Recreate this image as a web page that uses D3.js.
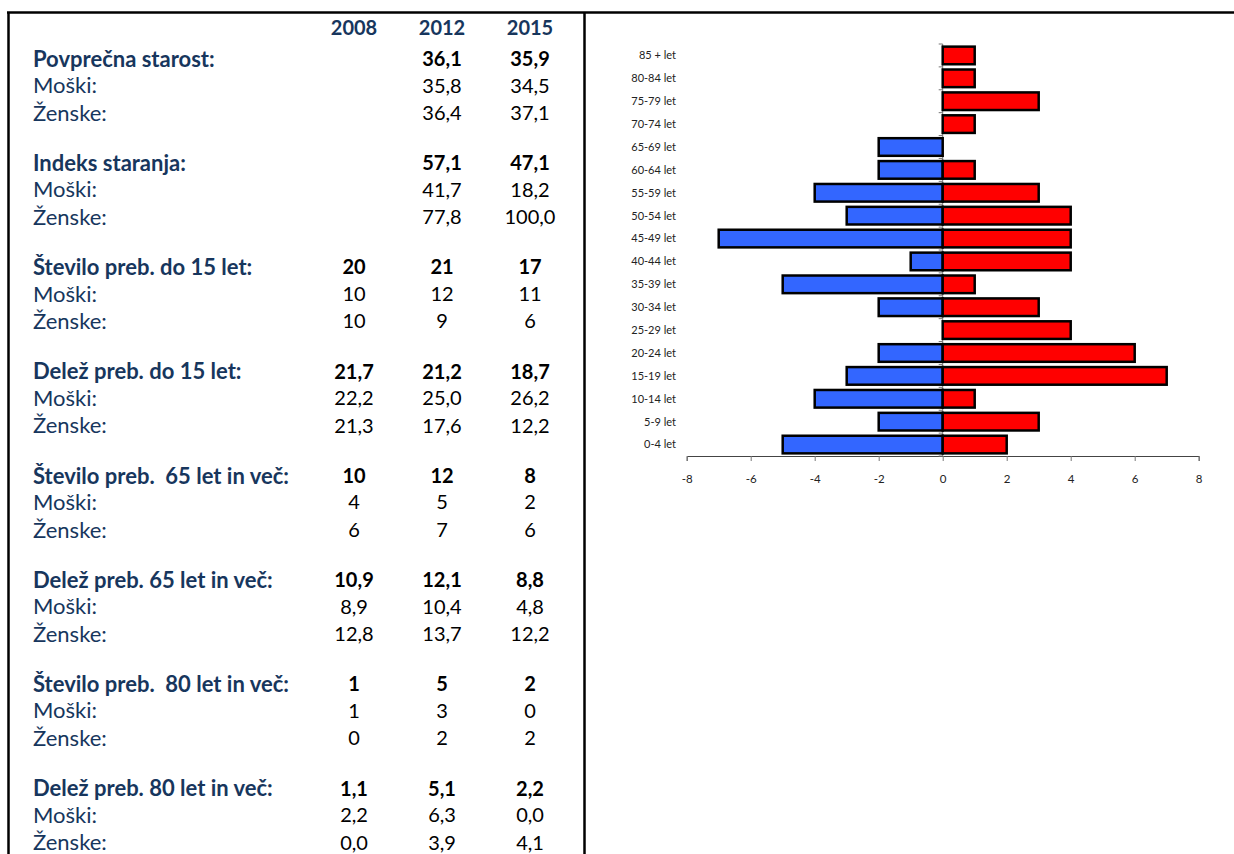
<!DOCTYPE html>
<html><head><meta charset="utf-8">
<script src="https://cdn.jsdelivr.net/npm/d3@7"></script>
<style>body{margin:0;background:#fff}svg text{white-space:pre}</style>
</head><body><svg id="c" width="1234" height="854"></svg>
<script>
const years = ["2008", "2012", "2015"];
const groupLabels = ["Povprečna starost:", "Indeks staranja:", "Število preb. do 15 let:", "Delež preb. do 15 let:", "Število preb.  65 let in več:", "Delež preb. 65 let in več:", "Število preb.  80 let in več:", "Delež preb. 80 let in več:"];
const subLabels = ["Moški:", "Ženske:"];
const totalValues = [["", "36,1", "35,9"], ["", "57,1", "47,1"], ["20", "21", "17"], ["21,7", "21,2", "18,7"], ["10", "12", "8"], ["10,9", "12,1", "8,8"], ["1", "5", "2"], ["1,1", "5,1", "2,2"]];
const maleValues = [["", "35,8", "34,5"], ["", "41,7", "18,2"], ["10", "12", "11"], ["22,2", "25,0", "26,2"], ["4", "5", "2"], ["8,9", "10,4", "4,8"], ["1", "3", "0"], ["2,2", "6,3", "0,0"]];
const femaleValues = [["", "36,4", "37,1"], ["", "77,8", "100,0"], ["10", "9", "6"], ["21,3", "17,6", "12,2"], ["6", "7", "6"], ["12,8", "13,7", "12,2"], ["0", "2", "2"], ["0,0", "3,9", "4,1"]];

const ageGroups = ["0-4 let", "5-9 let", "10-14 let", "15-19 let", "20-24 let", "25-29 let", "30-34 let", "35-39 let", "40-44 let", "45-49 let", "50-54 let", "55-59 let", "60-64 let", "65-69 let", "70-74 let", "75-79 let", "80-84 let", "85 + let"];
const men = [-5, -2, -4, -3, -2, 0, -2, -5, -1, -7, -3, -4, -2, -2, 0, 0, 0, 0];
const women = [2, 3, 1, 7, 6, 4, 3, 1, 4, 4, 4, 3, 1, 0, 1, 3, 1, 1];
const xTicks = [-8, -6, -4, -2, 0, 2, 4, 6, 8];

const svg = d3.select("#c");
const FONT = "Lato, 'Open Sans', sans-serif";
const NAVY = "#17365D";

// frame lines
svg.append("line").attr("x1", 7).attr("x2", 1234).attr("y1", 12.5).attr("y2", 12.5).attr("stroke", "#000").attr("stroke-width", 2.5);
svg.append("line").attr("x1", 8.5).attr("x2", 8.5).attr("y1", 12).attr("y2", 854).attr("stroke", "#000").attr("stroke-width", 2.5);
svg.append("line").attr("x1", 584.5).attr("x2", 584.5).attr("y1", 12).attr("y2", 854).attr("stroke", "#000").attr("stroke-width", 2.5);

// table
const colX = d3.scalePoint().domain(years).range([354, 530]);
const tbl = svg.append("g").attr("font-family", FONT);
tbl.selectAll("text.yr").data(years).join("text").attr("class", "yr")
  .attr("x", d => colX(d)).attr("y", 28).attr("dy", "0.35em").attr("font-size", 20)
  .attr("text-anchor", "middle").attr("font-weight", "bold").attr("fill", NAVY).text(d => d);

const groupY = d3.scaleLinear().domain([0, 7]).range([59, 788.5]);
const rowOffsets = [0, 26.5, 54];
groupLabels.forEach((lab, i) => {
  const y0 = groupY(i);
  tbl.append("text").attr("x", 33).attr("y", y0).attr("dy", "0.35em").attr("font-size", 22)
    .attr("font-weight", "bold").attr("fill", NAVY).text(lab);
  subLabels.forEach((s, k) => {
    tbl.append("text").attr("x", 33).attr("y", y0 + rowOffsets[k + 1]).attr("dy", "0.35em").attr("font-size", 22)
      .attr("fill", NAVY).text(s);
  });
  [totalValues[i], maleValues[i], femaleValues[i]].forEach((vals, k) => {
    vals.forEach((v, j) => {
      if (v === "") return;
      tbl.append("text").attr("x", colX(years[j])).attr("y", y0 + rowOffsets[k]).attr("dy", "0.35em").attr("font-size", 20)
        .attr("text-anchor", "middle").attr("font-weight", k === 0 ? "bold" : "normal").attr("fill", "#000").text(v);
    });
  });
});

// pyramid chart
const x = d3.scaleLinear().domain([-8, 8]).range([686.7, 1198.7]);
const y = d3.scaleBand().domain(ageGroups.slice().reverse()).range([44, 456]).paddingInner(0.23).paddingOuter(0.115);
const chart = svg.append("g");
const AX = "#777";

// x axis
const xAxis = chart.append("g").attr("transform", "translate(0,456)")
  .call(d3.axisBottom(x).tickValues(xTicks).tickFormat(d => String(d)).tickSize(5).tickPadding(14).tickSizeOuter(5));
xAxis.select(".domain").attr("stroke", "#444");
xAxis.selectAll(".tick line").attr("stroke", "#777");
xAxis.selectAll("text").attr("font-family", FONT).attr("font-size", 11.5).attr("fill", "#222");

// y axis line & boundary ticks
chart.append("line").attr("x1", x(0)).attr("x2", x(0)).attr("y1", 44).attr("y2", 456).attr("stroke", AX).attr("stroke-width", 1);
const bounds = d3.range(ageGroups.length + 1).map(i => 44 + i * y.step());
chart.selectAll("line.yt").data(bounds).join("line").attr("class", "yt")
  .attr("x1", x(0) - 4).attr("x2", x(0)).attr("y1", d => d).attr("y2", d => d).attr("stroke", AX);

// category labels
chart.selectAll("text.cat").data(ageGroups).join("text").attr("class", "cat")
  .attr("x", 676).attr("y", d => y(d) + y.bandwidth() / 2).attr("dy", "0.35em")
  .attr("text-anchor", "end").attr("font-family", FONT).attr("font-size", 11).attr("fill", "#222").text(d => d);

const menData = ageGroups.map((g, i) => ({ g, v: men[i] })).filter(d => d.v !== 0);
const womenData = ageGroups.map((g, i) => ({ g, v: women[i] })).filter(d => d.v !== 0);

chart.selectAll("rect.m").data(menData).join("rect").attr("class", "m")
  .attr("x", d => x(d.v)).attr("width", d => x(0) - x(d.v))
  .attr("y", d => y(d.g)).attr("height", y.bandwidth())
  .attr("fill", "#3366FF").attr("stroke", "#000").attr("stroke-width", 2.5);
chart.selectAll("rect.w").data(womenData).join("rect").attr("class", "w")
  .attr("x", x(0)).attr("width", d => x(d.v) - x(0))
  .attr("y", d => y(d.g)).attr("height", y.bandwidth())
  .attr("fill", "#FF0000").attr("stroke", "#000").attr("stroke-width", 2.5);
</script></body></html>
